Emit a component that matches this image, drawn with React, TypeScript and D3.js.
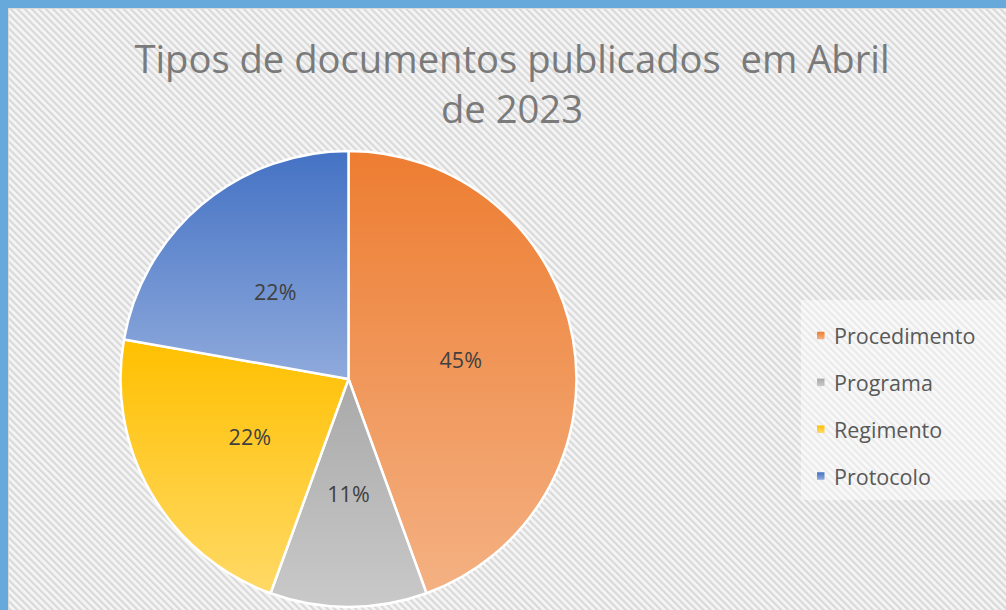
import React from 'react';
import * as d3 from 'd3';

// chart data
const categories = ['Procedimento', 'Programa', 'Regimento', 'Protocolo'];
const counts = [4, 1, 2, 2];
const pctLabels = ['45%', '11%', '22%', '22%'];
const topColors = ['#ED7D31', '#A9A9A9', '#FFC000', '#4472C4'];
const bottomColors = ['#F4B183', '#C9C9C9', '#FFD966', '#8FAADC'];
const titleLines = ['Tipos de documentos publicados  em Abril', 'de 2023'];

const W = 1006;
const H = 610;
const FONT = '"Open Sans", "Noto Sans", sans-serif';

const App = () => {
  const cx = 348.5;
  const cy = 379;
  const r = 228;

  const pie = d3.pie<number>().sort(null).value(d => d);
  const arcs = pie(counts);
  const arc = d3.arc<d3.PieArcDatum<number>>().innerRadius(0).outerRadius(r);
  const labelArc = d3.arc<d3.PieArcDatum<number>>().innerRadius(r * 0.5).outerRadius(r * 0.5);

  const legendY = d3.scalePoint<string>().domain(categories).range([335.5, 476]);

  return (
    <svg width={W} height={H} style={{ position: 'absolute', left: 0, top: 0, display: 'block' }}>
      <defs>
        <pattern id="hatch" width="5" height="5" patternUnits="userSpaceOnUse" patternTransform="rotate(-45)">
          <rect width="5" height="5" fill="#f5f5f5" />
          <rect x="0" y="0" width="2.2" height="5" fill="#d9d9d9" />
        </pattern>
        {categories.map((c, i) => (
          <linearGradient key={c} id={`g${i}`} x1="0" y1="0" x2="0" y2="1">
            <stop offset="0" stopColor={topColors[i]} />
            <stop offset="1" stopColor={bottomColors[i]} />
          </linearGradient>
        ))}
      </defs>

      {/* frame */}
      <rect x={0} y={0} width={W} height={H} fill="#68a9dc" />
      <rect x={8} y={8} width={W} height={H} fill="#d9d9d9" />
      <rect x={9} y={9} width={W} height={H} fill="url(#hatch)" />

      {/* title */}
      <g fill="#7a7a7a" fontFamily={FONT} fontSize={38.2} textAnchor="middle">
        {titleLines.map((t, i) => (
          <text key={i} x={512} y={72.5 + i * 50} style={{ whiteSpace: 'pre' }}>{t}</text>
        ))}
      </g>

      {/* pie */}
      <g transform={`translate(${cx},${cy})`}>
        {arcs.map((a, i) => (
          <path key={i} d={arc(a) || ''} fill={`url(#g${i})`} stroke="#ffffff" strokeWidth={2.5} strokeLinejoin="round" />
        ))}
        {arcs.map((a, i) => {
          const [x, y] = labelArc.centroid(a);
          return (
            <text key={i} x={x} y={y} textAnchor="middle" dominantBaseline="central"
              fontFamily={FONT} fontSize={21.5} fill="#404040">{pctLabels[i]}</text>
          );
        })}
      </g>

      {/* legend */}
      <rect x={801} y={300} width={210} height={200} fill="#ffffff" opacity={0.45} />
      {categories.map((c, i) => (
        <g key={c} transform={`translate(0,${legendY(c)})`}>
          <rect x={817} y={-3.75} width={7.5} height={7.5} fill={`url(#g${i})`} />
          <text x={834} y={0} dominantBaseline="central" fontFamily={FONT} fontSize={21.5} fill="#595959">{c}</text>
        </g>
      ))}
    </svg>
  );
};

export default App;
